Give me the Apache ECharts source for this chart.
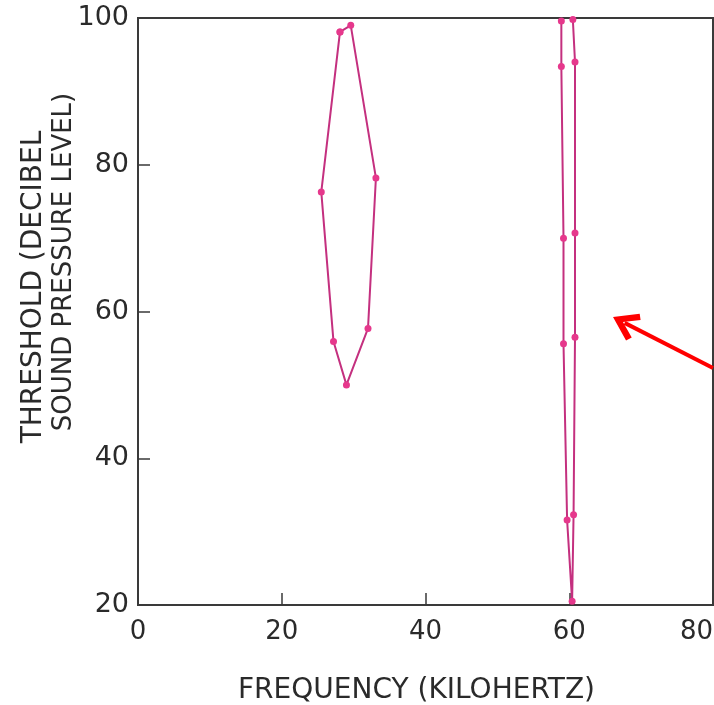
<!DOCTYPE html>
<html lang="en">
<head>
	<meta charset="UTF-8">
	<title>Threshold curve</title>
	<style type="text/css">
		html, body { margin: 0; padding: 0; background: #fff; }
		#main { width: 714px; height: 705px; }
	</style>
	<script src="https://cdn.jsdelivr.net/npm/echarts@6/dist/echarts.min.js"></script>
</head>
<body>
	<div id="main"></div>
	<script type="text/javascript">
	// frequency (kHz), threshold (dB SPL)
	var loop30 = [
		[28.1, 98.1], [25.5, 76.3], [27.2, 55.9], [29.0, 50.0],
		[32.0, 57.7], [33.1, 78.2], [29.6, 99.0], [28.1, 98.1]
	];
	var loop60 = [
		[58.9, 99.6], [58.9, 93.4], [59.2, 70.0], [59.2, 55.6], [59.7, 31.6],
		[60.4, 20.5],
		[60.6, 32.3], [60.8, 56.5], [60.8, 70.7], [60.8, 94.0], [60.5, 99.8]
	];
	var xTicks = [0, 20, 40, 60, 80];
	var yTicks = [20, 40, 60, 80, 100];
	// red pointer arrow: tail, head
	var arrowFrom = [80, 52.3];
	var arrowTo = [67.7, 58.45];

	var font = 'DejaVu Sans';
	var lineColor = '#c4307f';
	var dotColor = '#e6388c';
	// open chevron head, tip at top
	var chevron = 'path://M10,0 L20,15 L16.5,17.5 L10,7.5 L3.5,17.5 L0,15 Z';

	var myChart = echarts.init(document.getElementById('main'));
	var option = {
		animation: false,
		grid: {
			left: 138, right: 1, top: 18, bottom: 100,
			outerBoundsMode: 'none', containLabel: false,
			show: true, borderColor: '#3a3a3a', borderWidth: 2
		},
		xAxis: {
			type: 'value',
			min: xTicks[0], max: xTicks[xTicks.length - 1], interval: 20,
			name: 'FREQUENCY (KILOHERTZ)',
			nameLocation: 'middle', nameGap: 72,
			nameTextStyle: { fontFamily: font, fontSize: 28, color: '#2a2a2a', padding: [0, 18, 0, 0] },
			axisLine: { lineStyle: { color: '#3a3a3a', width: 2 } },
			axisTick: { inside: true, length: 12, lineStyle: { color: '#3a3a3a', width: 1.5 } },
			axisLabel: { fontFamily: font, fontSize: 26, color: '#2a2a2a', margin: 14, alignMaxLabel: 'right' },
			splitLine: { show: false }
		},
		yAxis: {
			type: 'value',
			min: yTicks[0], max: yTicks[yTicks.length - 1], interval: 20,
			axisLine: { lineStyle: { color: '#3a3a3a', width: 2 } },
			axisTick: { inside: true, length: 12, lineStyle: { color: '#3a3a3a', width: 1.5 } },
			axisLabel: { fontFamily: font, fontSize: 27, color: '#2a2a2a', margin: 9 },
			splitLine: { show: false }
		},
		graphic: [
			{
				type: 'text', x: 20, y: 287, rotation: Math.PI / 2,
				style: { text: 'THRESHOLD (DECIBEL', fontFamily: font, fontSize: 28,
					fill: '#2a2a2a', align: 'center', verticalAlign: 'top' }
			},
			{
				type: 'text', x: 51, y: 262, rotation: Math.PI / 2,
				style: { text: 'SOUND PRESSURE LEVEL)', fontFamily: font, fontSize: 26,
					fill: '#2a2a2a', align: 'center', verticalAlign: 'top' }
			}
		],
		series: [
			{
				type: 'line', data: loop30,
				symbol: 'circle', symbolSize: 7,
				lineStyle: { color: lineColor, width: 2 },
				itemStyle: { color: dotColor }
			},
			{
				type: 'line', data: loop60,
				symbol: 'circle', symbolSize: 7,
				lineStyle: { color: lineColor, width: 2 },
				itemStyle: { color: dotColor },
				markLine: {
					silent: true,
					symbol: ['none', chevron],
					symbolSize: [30, 26],
					label: { show: false },
					itemStyle: { color: '#ff0000' },
					lineStyle: { color: '#ff0000', width: 4, type: 'solid' },
					data: [[{ coord: arrowFrom }, { coord: arrowTo }]]
				}
			}
		]
	};
	myChart.setOption(option);
	</script>
</body>
</html>
